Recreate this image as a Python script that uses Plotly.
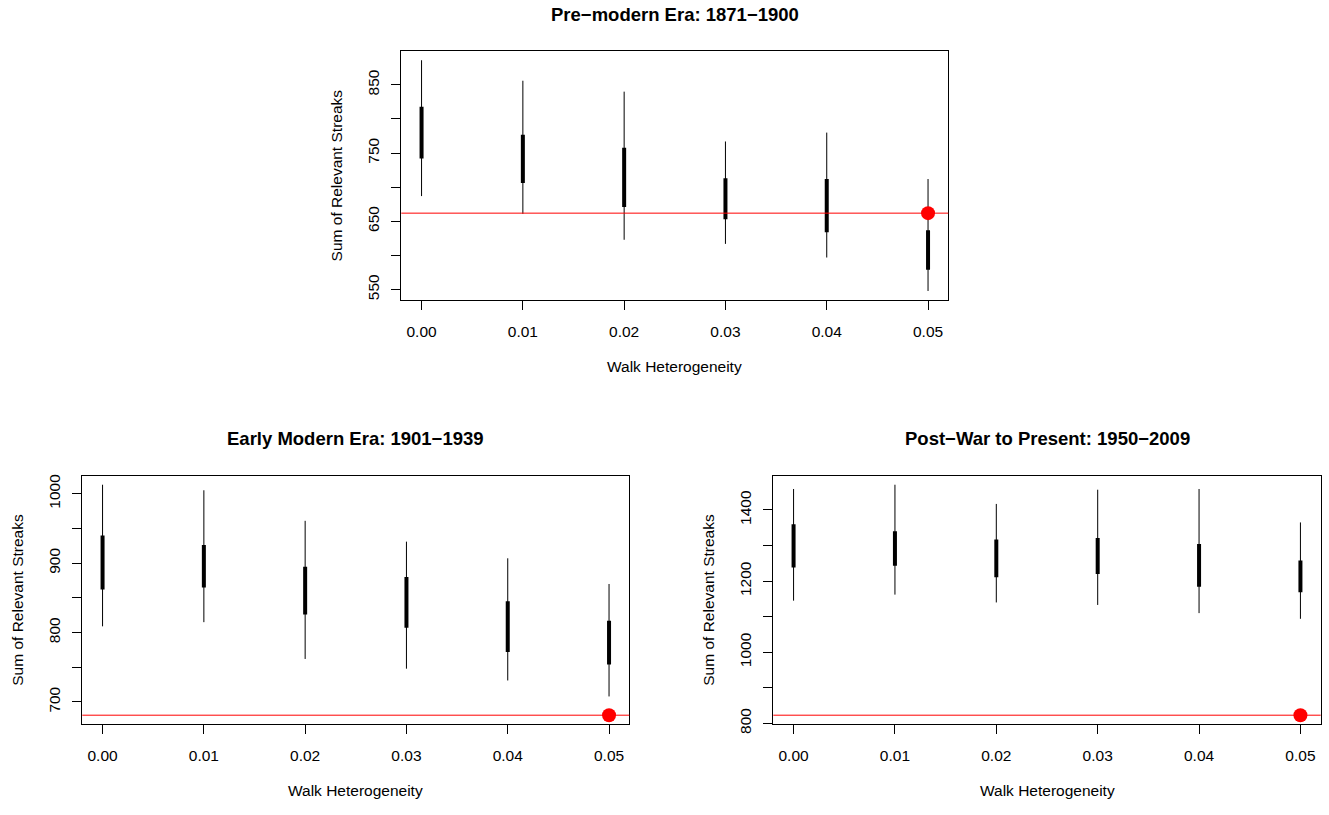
import plotly.graph_objects as go

W, H = 1329, 815

# ---------------- data ----------------
walk_heterogeneity = [0.00, 0.01, 0.02, 0.03, 0.04, 0.05]
x_tick_labels = ["0.00", "0.01", "0.02", "0.03", "0.04", "0.05"]

panel_titles = ["Pre\u2212modern Era: 1871\u22121900",
                "Early Modern Era: 1901\u22121939",
                "Post\u2212War to Present: 1950\u22122009"]

pre_whisker_lo = [687, 661, 623, 617, 597, 548]
pre_whisker_hi = [886, 856, 840, 767, 780, 712]
pre_box_lo = [742, 706, 671, 653, 634, 579]
pre_box_hi = [818, 777, 758, 713, 712, 637]
pre_observed = 662
pre_yticks = [550, 600, 650, 700, 750, 800, 850]
pre_ylabels = ["550", "", "650", "", "750", "", "850"]

early_whisker_lo = [809, 815, 762, 748, 731, 708]
early_whisker_hi = [1013, 1005, 961, 931, 907, 870]
early_box_lo = [862, 865, 826, 807, 772, 754]
early_box_hi = [940, 926, 895, 880, 845, 817]
early_observed = 681
early_yticks = [700, 750, 800, 850, 900, 950, 1000]
early_ylabels = ["700", "", "800", "", "900", "", "1000"]

post_whisker_lo = [1145, 1162, 1140, 1133, 1110, 1094]
post_whisker_hi = [1459, 1471, 1417, 1457, 1459, 1365]
post_box_lo = [1238, 1243, 1211, 1220, 1184, 1169]
post_box_hi = [1360, 1340, 1317, 1321, 1304, 1258]
post_observed = 823
post_yticks = [800, 900, 1000, 1100, 1200, 1300, 1400]
post_ylabels = ["800", "", "1000", "", "1200", "", "1400"]

x_label = "Walk Heterogeneity"
y_label = "Sum of Relevant Streaks"

# ---------------- layout (pixel boxes) ----------------
boxes = [  # left, right, top, bottom in px
    (401.3, 948.3, 50.7, 303.3),
    (82.3, 629.3, 481.0, 733.3),
    (773.3, 1320.7, 481.0, 733.3),
]
title_y = [14.0, 443.0, 443.0]

panels = [
    (pre_whisker_lo, pre_whisker_hi, pre_box_lo, pre_box_hi, pre_observed, pre_yticks, pre_ylabels),
    (early_whisker_lo, early_whisker_hi, early_box_lo, early_box_hi, early_observed, early_yticks, early_ylabels),
    (post_whisker_lo, post_whisker_hi, post_box_lo, post_box_hi, post_observed, post_yticks, post_ylabels),
]

FONT = "Liberation Sans, Arial, Helvetica, sans-serif"
BASE = 15.5

fig = go.Figure()
layout = dict(width=W, height=H, margin=dict(l=0, r=0, t=0, b=0),
              paper_bgcolor="white", plot_bgcolor="white", showlegend=False,
              font=dict(family=FONT, size=BASE, color="black"))
annotations = []
shapes = []


def px_x(v):
    return v / W


def px_y(v):
    return 1 - v / H


def pad_range(lo, hi, frac=0.04):
    d = hi - lo
    return [lo - frac * d, hi + frac * d]


for i, (wlo, whi, blo, bhi, obs, yt, yl) in enumerate(panels):
    n = "" if i == 0 else str(i + 1)
    xa, ya = "x" + n, "y" + n
    L, R, T, B = boxes[i]

    wx, wy, bx, by = [], [], [], []
    for xv, a, b, c, d in zip(walk_heterogeneity, wlo, whi, blo, bhi):
        wx += [xv, xv, None]
        wy += [a, b, None]
        bx += [xv, xv, None]
        by += [c, d, None]
    fig.add_trace(go.Scatter(x=wx, y=wy, mode="lines", line=dict(color="black", width=1),
                             xaxis=xa, yaxis=ya, hoverinfo="skip"))
    fig.add_trace(go.Scatter(x=bx, y=by, mode="lines", line=dict(color="black", width=4),
                             xaxis=xa, yaxis=ya, hoverinfo="skip"))
    shapes.append(dict(type="line", xref=xa + " domain", yref=ya, x0=0, x1=1, y0=obs, y1=obs,
                       line=dict(color="#FF0000", width=1), layer="above"))
    fig.add_trace(go.Scatter(x=[walk_heterogeneity[-1]], y=[obs], mode="markers",
                             marker=dict(color="#FF0000", size=14, line=dict(width=0)),
                             xaxis=xa, yaxis=ya, hoverinfo="skip"))

    ylo = min(wlo + [obs])
    yhi = max(whi + [obs])
    xr = pad_range(min(walk_heterogeneity), max(walk_heterogeneity))
    yr = pad_range(ylo, yhi)

    layout["xaxis" + n] = dict(domain=[px_x(L), px_x(R)], anchor=ya, range=xr,
                               tickvals=walk_heterogeneity, ticktext=x_tick_labels,
                               ticks="outside", ticklen=9, tickwidth=1, tickcolor="black",
                               showline=True, mirror=True, linecolor="black", linewidth=1,
                               showgrid=False, zeroline=False, ticklabelstandoff=8,
                               tickfont=dict(family=FONT, size=BASE, color="black"))
    layout["yaxis" + n] = dict(domain=[px_y(B), px_y(T)], anchor=xa, range=yr,
                               tickvals=yt, ticktext=yl, tickangle=-90,
                               ticks="outside", ticklen=9, tickwidth=1, tickcolor="black",
                               showline=True, mirror=True, linecolor="black", linewidth=1,
                               showgrid=False, zeroline=False, ticklabelstandoff=6,
                               tickfont=dict(family=FONT, size=BASE, color="black"))

    cx = (L + R) / 2
    cy = (T + B) / 2
    annotations.append(dict(text="<b>%s</b>" % panel_titles[i], xref="paper", yref="paper",
                            x=px_x(cx), y=px_y(title_y[i]), xanchor="center", yanchor="middle",
                            showarrow=False, font=dict(family=FONT, size=18.5, color="black")))
    annotations.append(dict(text=x_label, xref="paper", yref="paper",
                            x=px_x(cx), y=px_y(B + 67.2), xanchor="center", yanchor="middle",
                            showarrow=False, font=dict(family=FONT, size=BASE, color="black")))
    annotations.append(dict(text=y_label, xref="paper", yref="paper", textangle=-90,
                            x=px_x(L - 64.5), y=px_y(cy), xanchor="center", yanchor="middle",
                            showarrow=False, font=dict(family=FONT, size=BASE, color="black")))

layout["annotations"] = annotations
layout["shapes"] = shapes
fig.update_layout(**layout)
fig.write_html("out.html")
